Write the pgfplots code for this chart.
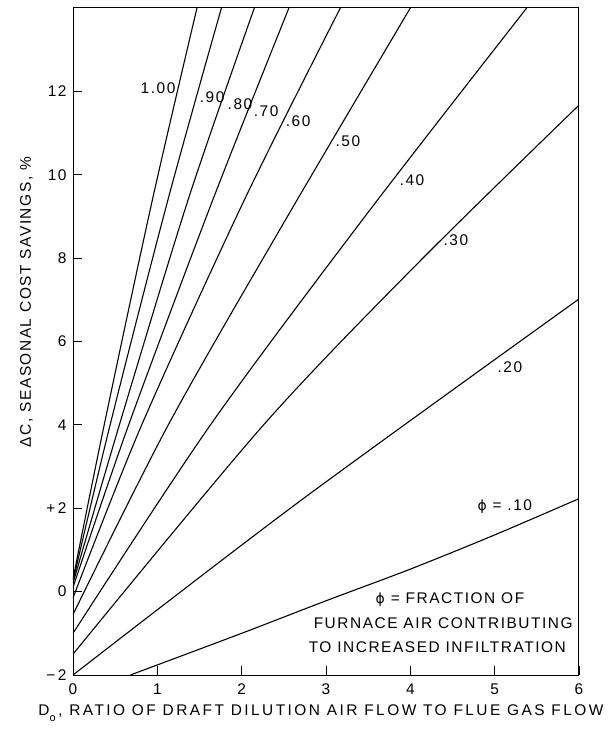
\documentclass[border=0pt]{standalone}
\usepackage{fontspec}
\setmainfont[LetterSpace=10]{Liberation Sans}
\newfontfamily\phifont{DejaVu Sans}
\usepackage{pgfplots}
\pgfplotsset{compat=1.18}
\newcommand{\lf}{\fontsize{15.5}{15.5}\selectfont}
\newcommand{\phis}{{\phifont\fontsize{14}{14}\selectfont ϕ}}
\tikzset{curve/.style={black, solid, line width=1.1pt, smooth, tension=0.5, mark=none}}
\begin{document}
\begin{tikzpicture}
\useasboundingbox (-73bp,-61bp) rectangle (541bp,675bp);
\begin{axis}[
  at={(0,0)}, anchor=south west,
  scale only axis, width=506bp, height=667bp,
  xmin=0, xmax=6, ymin=-2, ymax=14,
  xtick={0,1,2,3,4,5,6}, xticklabels={0,1,2,3,4,5,6},
  ytick={-2,0,2,4,6,8,10,12},
  yticklabels={{−\,2},0,{+\,2},4,6,8,10,12},
  /pgf/number format/assume math mode=true,
  tick align=inside, major tick length=9bp,
  xtick pos=bottom, ytick pos=left,
  axis line style={line width=1pt},
  tick style={line width=0.9pt, black},
  ticklabel style={font=\lf},
  xticklabel style={yshift=-5bp},
  yticklabel style={xshift=-3bp},
  xlabel={D\raisebox{-6bp}{\fontsize{11}{11}\selectfont o}\,, RATIO OF DRAFT DILUTION AIR FLOW TO FLUE GAS FLOW},
  xlabel style={font=\lf\addfontfeature{LetterSpace=16}, at={(axis description cs:0.49,-0.057)}, anchor=center},
  ylabel={ΔC, SEASONAL COST SAVINGS, \%},
  ylabel style={font=\lf, at={(axis description cs:-0.092,0.559)}, anchor=center},
  clip=true,
]
% phi = 1.00
\addplot[curve] coordinates {(0,0.3) (0.37,4) (0.945,9.43) (1.47,14)};
% phi = 0.90
\addplot[curve] coordinates {(0,0.25) (0.44,4) (1.13,9.43) (1.76,14)};
% phi = 0.80
\addplot[curve] coordinates {(0,0.2) (0.55,4) (1.37,9.43) (2.15,14)};
% phi = 0.70
\addplot[curve] coordinates {(0,0.1) (0.66,4) (1.664,9.43) (2.56,14)};
% phi = 0.60
\addplot[curve] coordinates {(0,-0.15) (0.815,4) (2.04,9.43) (3.17,14)};
% phi = 0.50
\addplot[curve] coordinates {(0,-0.55) (1.13,4) (2.5,8.85) (4.0,14)};
% phi = 0.40
\addplot[curve] coordinates {(0,-1.0) (1.63,4) (3.5,9.1) (5.38,14)};
% phi = 0.30
\addplot[curve] coordinates {(0,-1.5) (2.26,4) (4.1,7.9) (6,11.67)};
% phi = 0.20
\addplot[curve] coordinates {(0,-2) (2.69,2.17) (6,7.02)};
% phi = 0.10
\addplot[curve] coordinates {(0.68,-2) (2,-1.0) (3,-0.22) (4,0.54) (5,1.36) (6,2.23)};

\node[font=\lf] at (axis cs:1.008,12.08) {1.00};
\node[font=\lf] at (axis cs:1.65,11.86) {.90};
\node[font=\lf] at (axis cs:1.98,11.70) {.80};
\node[font=\lf] at (axis cs:2.29,11.53) {.70};
\node[font=\lf] at (axis cs:2.67,11.29) {.60};
\node[font=\lf] at (axis cs:3.26,10.81) {.50};
\node[font=\lf] at (axis cs:4.02,9.87) {.40};
\node[font=\lf] at (axis cs:4.54,8.43) {.30};
\node[font=\lf] at (axis cs:5.18,5.39) {.20};
\node[font=\lf] at (axis cs:5.12,2.03) {\phis\ = .10};
\node[font=\lf] at (axis cs:4.47,-0.2) {\phis\ = FRACTION OF};
\node[font=\lf] at (axis cs:4.39,-0.75) {FURNACE AIR CONTRIBUTING};
\node[font=\lf] at (axis cs:4.32,-1.33) {TO INCREASED INFILTRATION};
\end{axis}
\end{tikzpicture}
\end{document}
